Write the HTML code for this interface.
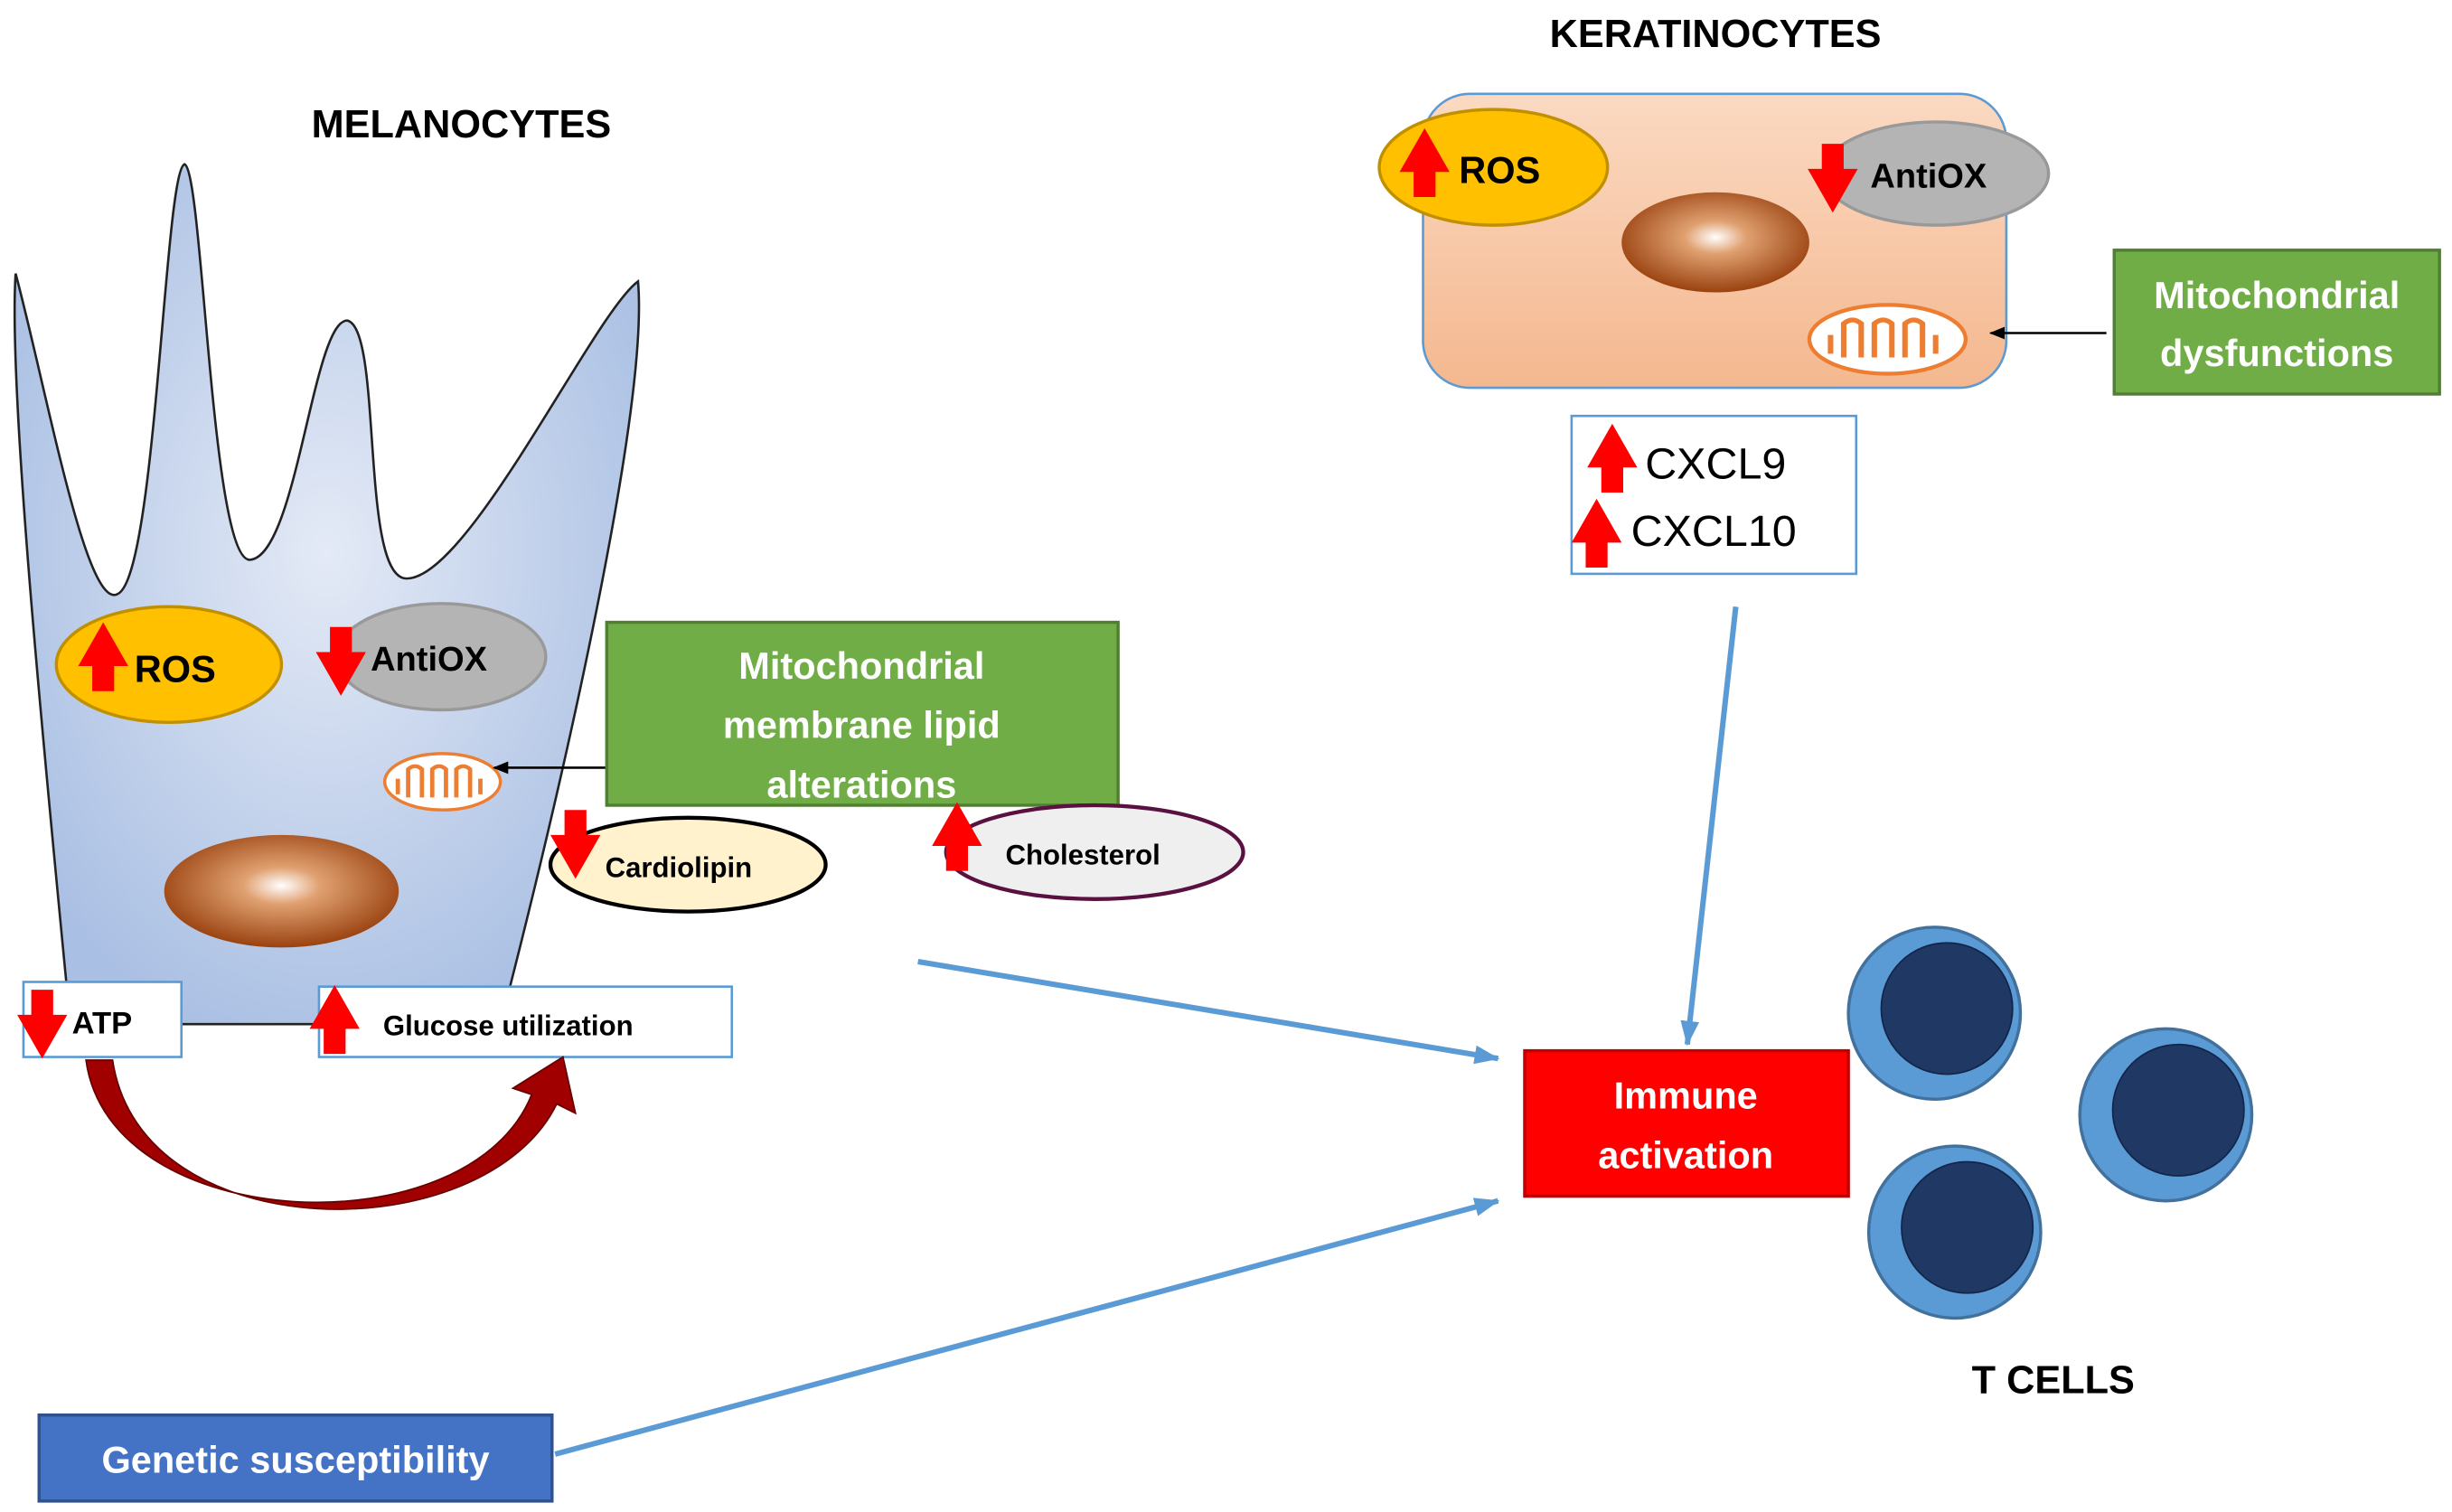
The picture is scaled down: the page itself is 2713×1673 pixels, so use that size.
<!DOCTYPE html>
<html><head><meta charset="utf-8"><style>html,body{margin:0;padding:0;background:#fff}svg{display:block}</style></head>
<body>
<svg width="2713" height="1673" viewBox="0 0 1568 967" preserveAspectRatio="none" xmlns="http://www.w3.org/2000/svg" font-family="Liberation Sans, sans-serif">
<defs>
<radialGradient id="cell" cx="0.5" cy="0.45" r="0.6"><stop offset="0" stop-color="#e4eaf6"/><stop offset="1" stop-color="#a9bfe3"/></radialGradient>
<linearGradient id="ker" x1="0" y1="0" x2="0" y2="1"><stop offset="0" stop-color="#fbd9c2"/><stop offset="1" stop-color="#f4b88f"/></linearGradient>
<radialGradient id="nuc" cx="0.5" cy="0.45" r="0.55"><stop offset="0" stop-color="#fff"/><stop offset="0.3" stop-color="#e0a070"/><stop offset="1" stop-color="#9a4210"/></radialGradient>
<marker id="ab" markerWidth="16" markerHeight="14" refX="15" refY="7" orient="auto" markerUnits="userSpaceOnUse"><path d="M0,1 L16,7 L0,13 Z" fill="#5b9bd5"/></marker>
<marker id="ak" markerWidth="10" markerHeight="8" refX="9" refY="4" orient="auto" markerUnits="userSpaceOnUse"><path d="M0,0 L10,4 L0,8 Z" fill="#000"/></marker>
<g id="up"><path d="M0,-22 L16,6 L7,6 L7,22 L-7,22 L-7,6 L-16,6 Z" fill="#f00"/></g>
<g id="dn"><path d="M0,22 L16,-6 L7,-6 L7,-22 L-7,-22 L-7,-6 L-16,-6 Z" fill="#f00"/></g>
<g id="mito"><path d="M-26,6 L-26,-4 M-20,8 L-20,-10 Q-16,-14 -12,-10 L-12,8 M-6,8 L-6,-10 Q-2,-14 2,-10 L2,8 M8,8 L8,-10 Q12,-14 16,-10 L16,8 M22,6 L22,-4" stroke="#ed7d31" stroke-width="2.5" fill="none"/></g>
</defs>
<text x="295" y="88" font-size="25" font-weight="bold" text-anchor="middle">MELANOCYTES</text>
<path d="M45,655 C30,500 5,250 10,175 C30,250 55,390 75,380 C100,370 105,110 118,105 C130,110 135,360 160,358 C190,355 200,205 222,205 C245,210 230,370 260,370 C300,370 380,200 408,180 C415,260 360,500 320,655 Z" fill="url(#cell)" stroke="#222" stroke-width="1.5"/>
<ellipse cx="108" cy="425" rx="72" ry="37" fill="#ffc000" stroke="#c09000" stroke-width="2"/>
<use href="#up" x="66" y="420"/>
<text x="86" y="436" font-size="24" font-weight="bold">ROS</text>
<ellipse cx="282" cy="420" rx="67" ry="34" fill="#b4b4b4" stroke="#999" stroke-width="2"/>
<use href="#dn" x="218" y="423"/>
<text x="237" y="429" font-size="22" font-weight="bold">AntiOX</text>
<ellipse cx="283" cy="500" rx="37" ry="18" fill="#fff" stroke="#ed7d31" stroke-width="2"/>
<use href="#mito" transform="translate(283,502) scale(1.1,1)"/>
<ellipse cx="180" cy="570" rx="75" ry="36" fill="url(#nuc)"/>
<line x1="388" y1="491" x2="316" y2="491" stroke="#000" stroke-width="1.5" marker-end="url(#ak)"/>
<rect x="388" y="398" width="327" height="117" fill="#70ad47" stroke="#507e32" stroke-width="2"/>
<g fill="#fff" font-size="24" font-weight="bold" text-anchor="middle"><text x="551" y="434">Mitochondrial</text><text x="551" y="472">membrane lipid</text><text x="551" y="510">alterations</text></g>
<ellipse cx="440" cy="553" rx="88" ry="30" fill="#fff2cc" stroke="#000" stroke-width="2.5"/>
<use href="#dn" x="368" y="540"/>
<text x="387" y="561" font-size="18" font-weight="bold">Cardiolipin</text>
<ellipse cx="700" cy="545" rx="95" ry="30" fill="#efefef" stroke="#5a1040" stroke-width="2.5"/>
<use href="#up" x="612" y="535"/>
<text x="643" y="553" font-size="18" font-weight="bold">Cholesterol</text>
<rect x="15" y="628" width="101" height="48" fill="#fff" stroke="#5b9bd5" stroke-width="1.5"/>
<use href="#dn" x="27" y="655"/>
<text x="46" y="661" font-size="20" font-weight="bold">ATP</text>
<rect x="204" y="631" width="264" height="45" fill="#fff" stroke="#5b9bd5" stroke-width="1.5"/>
<use href="#up" x="214" y="652"/>
<text x="245" y="662" font-size="18" font-weight="bold">Glucose utilization</text>
<path d="M55,678 C70,790 300,800 340,700 L328,696 L360,676 L368,712 L356,706 C310,800 90,800 72,678 Z" fill="#a00000" stroke="#600" stroke-width="1"/>
<text x="1097" y="30" font-size="25" font-weight="bold" text-anchor="middle">KERATINOCYTES</text>
<rect x="910" y="60" width="373" height="188" rx="30" fill="url(#ker)" stroke="#5b9bd5" stroke-width="1.5"/>
<ellipse cx="955" cy="107" rx="73" ry="37" fill="#ffc000" stroke="#c09000" stroke-width="2"/>
<use href="#up" x="911" y="104"/>
<text x="933" y="117" font-size="24" font-weight="bold">ROS</text>
<ellipse cx="1238" cy="111" rx="72" ry="33" fill="#b4b4b4" stroke="#999" stroke-width="2"/>
<use href="#dn" x="1172" y="114"/>
<text x="1196" y="120" font-size="22" font-weight="bold">AntiOX</text>
<ellipse cx="1097" cy="155" rx="60" ry="32" fill="url(#nuc)"/>
<ellipse cx="1207" cy="217" rx="50" ry="22" fill="#fff" stroke="#ed7d31" stroke-width="2.5"/>
<use href="#mito" transform="translate(1207,219) scale(1.4,1.2)"/>
<line x1="1347" y1="213" x2="1273" y2="213" stroke="#000" stroke-width="1.5" marker-end="url(#ak)"/>
<rect x="1352" y="160" width="208" height="92" fill="#70ad47" stroke="#507e32" stroke-width="2"/>
<g fill="#fff" font-size="24" font-weight="bold" text-anchor="middle"><text x="1456" y="197">Mitochondrial</text><text x="1456" y="234">dysfunctions</text></g>
<rect x="1005" y="266" width="182" height="101" fill="#fff" stroke="#5b9bd5" stroke-width="1.5"/>
<use href="#up" x="1031" y="293"/>
<text x="1052" y="306" font-size="28">CXCL9</text>
<use href="#up" x="1021" y="341"/>
<text x="1043" y="349" font-size="28">CXCL10</text>
<g stroke="#5b9bd5" stroke-width="3.5" fill="none">
<line x1="1110" y1="388" x2="1079" y2="668" marker-end="url(#ab)"/>
<line x1="587" y1="615" x2="958" y2="677" marker-end="url(#ab)"/>
<line x1="355" y1="930" x2="958" y2="768" marker-end="url(#ab)"/>
</g>
<rect x="975" y="672" width="207" height="93" fill="#f00" stroke="#c00000" stroke-width="2"/>
<g fill="#fff" font-size="24" font-weight="bold" text-anchor="middle"><text x="1078" y="709">Immune</text><text x="1078" y="747">activation</text></g>
<g stroke="#41719c" stroke-width="2"><circle cx="1237" cy="648" r="55" fill="#5b9bd5"/><circle cx="1385" cy="713" r="55" fill="#5b9bd5"/><circle cx="1250" cy="788" r="55" fill="#5b9bd5"/></g>
<g fill="#1f3864" stroke="#13254a" stroke-width="1"><circle cx="1245" cy="645" r="42"/><circle cx="1393" cy="710" r="42"/><circle cx="1258" cy="785" r="42"/></g>
<text x="1313" y="891" font-size="25" font-weight="bold" text-anchor="middle">T CELLS</text>
<rect x="25" y="905" width="328" height="55" fill="#4472c4" stroke="#2f528f" stroke-width="2"/>
<text x="189" y="942" fill="#fff" font-size="24" font-weight="bold" text-anchor="middle">Genetic susceptibility</text>
</svg>
</body></html>
